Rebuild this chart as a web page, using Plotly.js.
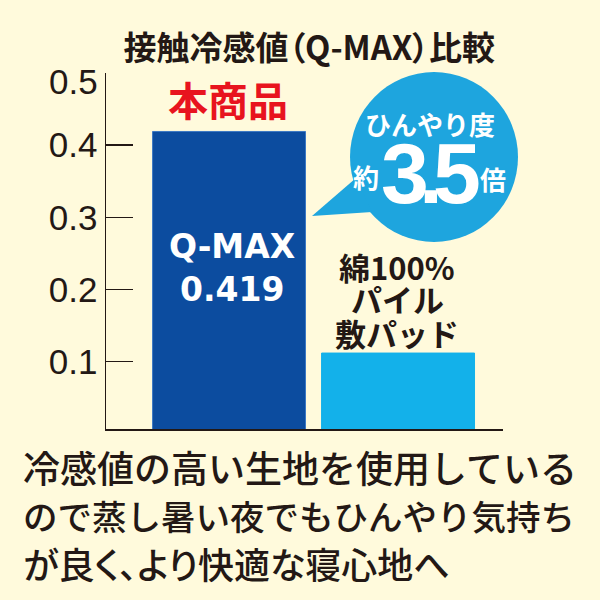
<!DOCTYPE html>
<html><head><meta charset="utf-8">
<script src="https://cdn.plot.ly/plotly-3.0.1.min.js"></script>
<style>
html,body{margin:0;padding:0;background:#fffadc;}
g.annotation[data-index="0"] text, g.annotation[data-index="16"] text { font-feature-settings: "palt" 1; }
</style>
</head><body><div id="chart" style="width:600px;height:600px;"></div>
<script>
// ---- data ----
const categories = ['本商品', '綿100%パイル敷パッド'];
const qmaxValues = [0.419, 0.112];
const yTickVals = [0.1, 0.2, 0.3, 0.4];
const yTickText = ['0.1', '0.2', '0.3', '0.4'];
const yTopLabel = '0.5';
const titleText = '接触冷感値（Q-MAX）比較';
const productLabel = '本商品';
const valueLabelLines = ['Q-MAX', '0.419'];
const compareLabelLines = ['綿100%', 'パイル', '敷パッド'];
const bubbleHead = 'ひんやり度';
const bubblePre = '約';
const bubbleDigits = ['3', '.', '5'];
const bubblePost = '倍';
const captionLines = ['冷感値の高い生地を使用している', 'ので蒸し暑い夜でもひんやり気持ち', 'が良く、より快適な寝心地へ'];

// ---- layout geometry (pixels) ----
const L = 106, R = 503, T = 73, B = 429;
const px = x => (x - L) / (R - L);
const py = y => (B - y) / (B - T);
const zeroPx = 433.9;
const yMin = 0.5 * (zeroPx - B) / (zeroPx - T);

const CJK = '"Noto Sans CJK JP", "Noto Sans CJK SC", sans-serif';
const NUM = '"Liberation Sans Narrow", "Arial Narrow", "Liberation Sans", Arial, sans-serif';
const BG = '#fffadc';

const trace = {
  type: 'bar',
  x: categories,
  y: qmaxValues,
  width: 0.905,
  marker: { color: ['#0c4c9f', '#13b1ea'], line: { color: ['#3c78c4', '#13b1ea'], width: 1 } },
  hoverinfo: 'none'
};

function ann(text, x, y, size, color, family, weight, xanchor) {
  return { text: text, x: px(x), y: py(y), xref: 'paper', yref: 'paper', showarrow: false,
    xanchor: xanchor || 'center', yanchor: 'middle',
    font: { size: size, color: color, family: family, weight: weight || 'normal' } };
}

const annotations = [
  ann(titleText, 309, 46, 33, '#231815', CJK, 'bold'),
  ann(yTopLabel, 100, 81, 35, '#231815', NUM, 'normal', 'right'),
  ann(productLabel, 228, 99, 40, '#e8141e', CJK, 'bold'),
  ann(valueLabelLines[0], 232, 246, 33, '#ffffff', '"DejaVu Sans", sans-serif', 'bold'),
  ann(valueLabelLines[1], 232, 289, 33, '#ffffff', '"DejaVu Sans", sans-serif', 'bold'),
  ann(compareLabelLines[0], 397, 266, 31, '#231815', CJK, 'bold'),
  ann(compareLabelLines[1], 397, 298, 31, '#231815', CJK, 'bold'),
  ann(compareLabelLines[2], 397, 332, 31, '#231815', CJK, 'bold'),
  ann(bubbleHead, 430, 123, 26, '#ffffff', CJK, 'bold'),
  ann(bubblePre, 366, 176, 26, '#ffffff', CJK, 'bold'),
  ann(bubbleDigits[0], 405, 173, 86, '#ffffff', '"Liberation Sans", Arial, sans-serif', 'bold'),
  ann(bubbleDigits[1], 431, 173, 86, '#ffffff', '"Liberation Sans", Arial, sans-serif', 'bold'),
  ann(bubbleDigits[2], 457, 173, 86, '#ffffff', '"Liberation Sans", Arial, sans-serif', 'bold'),
  ann(bubblePost, 493, 178, 26, '#ffffff', CJK, 'bold'),
  ann(captionLines[0], 21, 467, 37, '#231815', CJK, 500, 'left'),
  ann(captionLines[1], 21, 515, 34.5, '#231815', CJK, 500, 'left'),
  ann(captionLines[2], 236, 563, 36, '#231815', CJK, 500, 'center')
];

const bubbleColor = '#1ea5de';
const shapes = [
  { type: 'circle', xref: 'paper', yref: 'paper', x0: px(350), x1: px(518), y0: py(242), y1: py(72),
    fillcolor: bubbleColor, line: { width: 0 }, layer: 'above' },
  { type: 'path', xref: 'paper', yref: 'paper',
    path: 'M ' + px(356) + ' ' + py(178) + ' L ' + px(312) + ' ' + py(216) + ' L ' + px(372) + ' ' + py(212) + ' Z',
    fillcolor: bubbleColor, line: { width: 0 }, layer: 'above' }
];

const layout = {
  width: 600, height: 600,
  margin: { l: L, r: 600 - R, t: T, b: 600 - B, pad: 0 },
  paper_bgcolor: BG, plot_bgcolor: BG,
  showlegend: false,
  bargap: 0,
  xaxis: { type: 'category', range: [-0.728, 1.621], showticklabels: false, ticks: '',
    showline: true, linecolor: '#231815', linewidth: 1.5, showgrid: false, zeroline: false, fixedrange: true },
  yaxis: { range: [yMin, 0.5], tickvals: yTickVals, ticktext: yTickText, ticks: 'inside', ticklen: 27,
    tickwidth: 1.5, tickcolor: '#231815', showline: true, linecolor: '#231815', linewidth: 1.5,
    showgrid: false, zeroline: false, ticklabelstandoff: 0,
    tickfont: { family: NUM, size: 35, color: '#231815' } },
  annotations: annotations,
  shapes: shapes
};

Plotly.newPlot('chart', [trace], layout, { displayModeBar: false, staticPlot: true });
</script></body></html>
